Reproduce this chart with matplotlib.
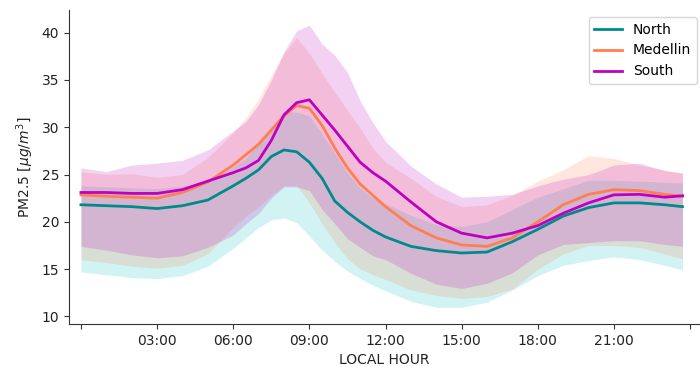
import numpy as np
import matplotlib
matplotlib.use("Agg")
import matplotlib.pyplot as plt

# ── Data ─────────────────────────────────────────────────────────────────────
HOURS = [0, 1, 2, 3, 4, 5, 6, 6.5, 7, 7.5, 8, 8.5, 9, 9.5, 10, 10.5, 11, 11.5,
         12, 13, 14, 15, 16, 17, 18, 19, 20, 21, 22, 23, 23.7]

north_mid = [21.8, 21.7, 21.6, 21.4, 21.7, 22.3, 23.8, 24.6, 25.5, 26.9, 27.6,
             27.4, 26.3, 24.6, 22.2, 21.0, 20.0, 19.1, 18.4, 17.4, 16.95, 16.7,
             16.8, 17.9, 19.2, 20.6, 21.5, 22.0, 22.0, 21.8, 21.6]
north_lo = [14.7, 14.4, 14.1, 14.0, 14.3, 15.3, 17.2, 18.3, 19.4, 20.2, 20.4,
            19.9, 18.5, 17.0, 15.8, 14.8, 14.0, 13.3, 12.7, 11.6, 10.95, 10.95,
            11.5, 12.8, 14.3, 15.4, 15.9, 16.3, 16.0, 15.4, 14.9]
north_hi = [23.8, 23.7, 23.6, 23.5, 23.8, 24.2, 25.8, 26.7, 28.5, 30.0, 31.7,
            31.6, 31.2, 29.3, 27.3, 25.2, 23.6, 22.5, 21.9, 20.7, 19.7, 19.5,
            20.0, 21.3, 22.6, 23.5, 24.4, 24.4, 24.3, 24.2, 24.1]

med_mid = [22.85, 22.7, 22.6, 22.5, 23.1, 24.2, 26.0, 27.1, 28.2, 29.7, 31.2,
           32.3, 32.0, 30.2, 27.8, 25.7, 24.0, 22.8, 21.6, 19.6, 18.3, 17.55,
           17.4, 18.3, 20.0, 21.8, 22.9, 23.4, 23.3, 22.9, 22.7]
med_lo = [16.0, 15.7, 15.3, 15.1, 15.4, 16.6, 19.4, 20.6, 21.6, 22.8, 23.8,
          23.8, 22.0, 19.8, 17.8, 16.1, 15.0, 14.4, 13.9, 12.8, 12.2, 11.9,
          12.1, 12.9, 15.0, 16.6, 17.5, 17.5, 17.3, 16.6, 16.1]
med_hi = [25.3, 25.0, 25.1, 24.7, 25.0, 26.8, 29.4, 31.0, 33.0, 35.5, 37.8,
          39.5, 37.8, 35.7, 33.7, 31.8, 29.9, 27.8, 26.3, 24.6, 22.7, 21.6,
          21.8, 22.8, 24.3, 25.5, 27.0, 26.7, 26.0, 25.5, 25.15]

south_mid = [23.1, 23.1, 23.0, 23.0, 23.4, 24.3, 25.2, 25.7, 26.5, 28.6, 31.3,
             32.6, 32.9, 31.3, 29.7, 28.0, 26.3, 25.2, 24.3, 22.1, 20.0, 18.8,
             18.3, 18.8, 19.6, 20.9, 22.0, 22.85, 22.9, 22.6, 22.75]
south_lo = [17.4, 17.0, 16.5, 16.2, 16.4, 17.3, 18.6, 19.8, 20.9, 22.5, 23.7,
            23.7, 23.3, 21.3, 19.8, 18.2, 17.3, 16.4, 16.0, 14.55, 13.4, 12.95,
            13.5, 14.6, 16.5, 17.6, 17.8, 18.0, 18.0, 17.6, 17.4]
south_hi = [25.7, 25.3, 26.0, 26.2, 26.5, 27.6, 29.6, 30.6, 32.4, 35.0, 38.0,
            40.2, 40.8, 38.8, 37.6, 35.8, 32.8, 30.5, 28.5, 25.9, 24.0, 22.6,
            22.7, 22.9, 23.8, 24.5, 25.0, 26.0, 26.2, 25.4, 25.15]

REGIONS = ["North", "Medellin", "South"]
LINE_COLORS = ["darkcyan", "coral", "#c000c0"]
FILL_COLORS = ["c", "coral", "m"]

TICK_HOURS = [0, 3, 6, 9, 12, 15, 18, 21, 24]
TICK_LABELS = ["", "03:00", "06:00", "09:00", "12:00", "15:00", "18:00", "21:00", ""]

# ── Plot ─────────────────────────────────────────────────────────────────────
fig = plt.figure(figsize=(7.0, 3.67), dpi=100)
ax = fig.add_axes([69 / 700, 43 / 367, 631 / 700, 314 / 367])

x = np.array(HOURS)
series = [
    (north_mid, north_lo, north_hi),
    (med_mid, med_lo, med_hi),
    (south_mid, south_lo, south_hi),
]

# percentile bands first, mean lines on top
for (mid, lo, hi), color in zip(series, FILL_COLORS):
    ax.fill_between(x, lo, hi, color=color, alpha=0.18, linewidth=0)

for (mid, lo, hi), name, color in zip(series, REGIONS, LINE_COLORS):
    ax.plot(x, mid, color=color, linewidth=2, label=name)

ax.set_xlim(-0.47, 24.39)
ax.set_ylim(9.19, 42.4)
ax.set_xticks(TICK_HOURS)
ax.set_xticklabels(TICK_LABELS)
ax.set_yticks([10, 15, 20, 25, 30, 35, 40])
ax.tick_params(labelsize=10, colors="#333333", labelcolor="#222222")

ax.set_xlabel("LOCAL HOUR", fontsize=10, color="#222222")
ax.set_ylabel(r"PM2.5 [$\mu g/m^3$]", fontsize=10, color="#222222")

ax.spines["top"].set_visible(False)
ax.spines["right"].set_visible(False)
for side in ["left", "bottom"]:
    ax.spines[side].set_color("#333333")

ax.legend(loc="upper right", fontsize=10, frameon=True, bbox_to_anchor=(1.006, 1.0))

plt.savefig("out.png", dpi=100)
plt.close()
